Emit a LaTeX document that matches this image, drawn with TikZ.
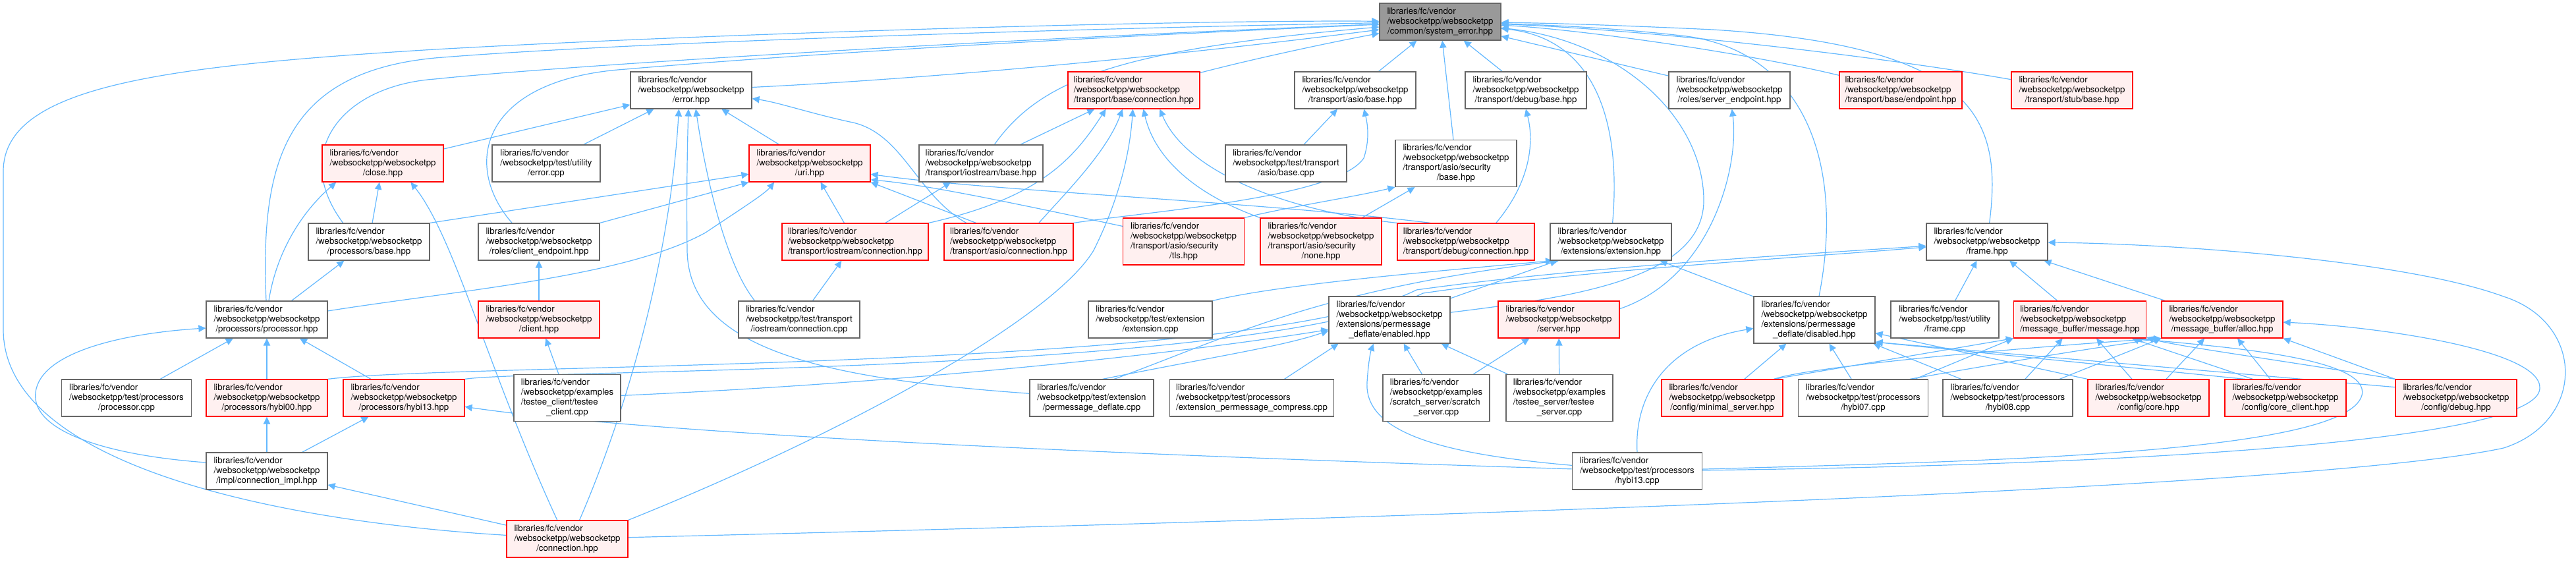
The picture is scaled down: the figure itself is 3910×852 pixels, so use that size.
\documentclass[tikz,border=0pt]{standalone}
\usepackage{fontspec}
\setmainfont{TeX Gyre Heros}
\usetikzlibrary{arrows.meta}
\definecolor{edgec}{HTML}{63B8FF}
\definecolor{bordg}{HTML}{666666}
\definecolor{bordr}{HTML}{FF0000}
\definecolor{fillr}{HTML}{FFF0F0}
\definecolor{fillg}{HTML}{999999}
\newcommand{\lthree}[3]{\begin{tabular}{@{}l@{}}#1\\#2\\\multicolumn{1}{@{}c@{}}{#3}\end{tabular}}
\newcommand{\lfour}[4]{\begin{tabular}{@{}l@{}}#1\\#2\\#3\\\multicolumn{1}{@{}c@{}}{#4}\end{tabular}}
\newcommand{\lfv}{libraries/fc/vendor}
\newcommand{\wsw}{/websocketpp/websocketpp}
\pgfdeclarelayer{bg}
\pgfsetlayers{bg,main}
\tikzset{
  nd/.style={draw=bordg, fill=white, line width=0.6pt, inner sep=0pt, minimum height=28pt, font=\fontsize{6.62}{7.5}\selectfont},
  rd/.style={nd, draw=bordr, fill=fillr},
  gd/.style={nd, fill=fillg},
  bw/.style={minimum width=#1*0.5pt},
  bh/.style={minimum height=#1*0.5pt},
  ed/.style={draw=edgec, line width=0.6pt, -{Triangle[length=5.5pt,width=5.2pt]}},
}
\begin{document}
\begin{tikzpicture}[x=0.5pt,y=-0.5pt]
\useasboundingbox (0,0) rectangle (3910,852);
% row 0
\node[gd,bw=184] (se) at (2186,33) {\lthree{\lfv}{\wsw}{/common/system\_error.hpp}};
% row 1
\node[nd,bw=184] (err) at (1049,137) {\lthree{\lfv}{\wsw}{/error.hpp}};
\node[rd,bw=200] (tbc) at (1721,137) {\lthree{\lfv}{\wsw}{/transport/base/connection.hpp}};
\node[nd,bw=184] (tab) at (2057,137) {\lthree{\lfv}{\wsw}{/transport/asio/base.hpp}};
\node[nd,bw=184] (tdb) at (2316,137) {\lthree{\lfv}{\wsw}{/transport/debug/base.hpp}};
\node[nd,bw=184] (rse) at (2625,137) {\lthree{\lfv}{\wsw}{/roles/server\_endpoint.hpp}};
\node[rd,bw=186] (tbe) at (2885,137) {\lthree{\lfv}{\wsw}{/transport/base/endpoint.hpp}};
\node[rd,bw=184] (tsb) at (3145,137) {\lthree{\lfv}{\wsw}{/transport/stub/base.hpp}};
% row 2
\node[rd,bw=184] (close) at (581,248) {\lthree{\lfv}{\wsw}{/close.hpp}};
\node[nd,bw=164] (errcpp) at (829,248) {\lthree{\lfv}{/websocketpp/test/utility}{/error.cpp}};
\node[rd,bw=184] (uri) at (1229,248) {\lthree{\lfv}{\wsw}{/uri.hpp}};
\node[nd,bw=188] (tib) at (1489,248) {\lthree{\lfv}{\wsw}{/transport/iostream/base.hpp}};
\node[nd,bw=184] (tabcpp) at (1952,248) {\lthree{\lfv}{/websocketpp/test/transport}{/asio/base.cpp}};
\node[nd,bw=184,bh=71] (tasb) at (2210,248) {\lfour{\lfv}{\wsw}{/transport/asio/security}{/base.hpp}};
% row 3
\node[nd,bw=184] (pbase) at (560,367) {\lthree{\lfv}{\wsw}{/processors/base.hpp}};
\node[nd,bw=184] (cep) at (818,367) {\lthree{\lfv}{\wsw}{/roles/client\_endpoint.hpp}};
\node[rd,bw=222] (ticonn) at (1298,367) {\lthree{\lfv}{\wsw}{/transport/iostream/connection.hpp}};
\node[rd,bw=196] (tac) at (1531,367) {\lthree{\lfv}{\wsw}{/transport/asio/connection.hpp}};
\node[rd,bw=184,bh=71] (tls) at (1796.5,366.5) {\lfour{\lfv}{\wsw}{/transport/asio/security}{/tls.hpp}};
\node[rd,bw=184,bh=71] (none) at (2005,366.5) {\lfour{\lfv}{\wsw}{/transport/asio/security}{/none.hpp}};
\node[rd,bw=208] (tdc) at (2225,367) {\lthree{\lfv}{\wsw}{/transport/debug/connection.hpp}};
\node[nd,bw=184] (ext) at (2445,367) {\lthree{\lfv}{\wsw}{/extensions/extension.hpp}};
\node[nd,bw=184] (frame) at (3016,367) {\lthree{\lfv}{\wsw}{/frame.hpp}};
% row 4
\node[nd,bw=184] (proc) at (405,485) {\lthree{\lfv}{\wsw}{/processors/processor.hpp}};
\node[rd,bw=184] (client) at (818,485) {\lthree{\lfv}{\wsw}{/client.hpp}};
\node[nd,bw=184] (ticonncpp) at (1213,485) {\lthree{\lfv}{/websocketpp/test/transport}{/iostream/connection.cpp}};
\node[nd,bw=188] (extcpp) at (1746,485) {\lthree{\lfv}{/websocketpp/test/extension}{/extension.cpp}};
\node[nd,bw=184,bh=71] (enabled) at (2109,485.5) {\lfour{\lfv}{\wsw}{/extensions/permessage}{\_deflate/enabled.hpp}};
\node[rd,bw=184] (server) at (2366,485) {\lthree{\lfv}{\wsw}{/server.hpp}};
\node[nd,bw=184,bh=71] (disabled) at (2754,485.5) {\lfour{\lfv}{\wsw}{/extensions/permessage}{\_deflate/disabled.hpp}};
\node[nd,bw=164] (framecpp) at (2952,485) {\lthree{\lfv}{/websocketpp/test/utility}{/frame.cpp}};
\node[rd,bw=201] (msg) at (3157,485) {\lthree{\lfv}{\wsw}{/message\_buffer/message.hpp}};
\node[rd,bw=184] (alloc) at (3373,485) {\lthree{\lfv}{\wsw}{/message\_buffer/alloc.hpp}};
% row 5
\node[nd,bw=197] (proccpp) at (192,604) {\lthree{\lfv}{/websocketpp/test/processors}{/processor.cpp}};
\node[rd,bw=184] (hzz) at (405,604) {\lthree{\lfv}{\wsw}{/processors/hybi00.hpp}};
\node[rd,bw=184] (hot) at (613,604) {\lthree{\lfv}{\wsw}{/processors/hybi13.hpp}};
\node[nd,bw=162,bh=71] (tclient) at (861,604) {\lfour{\lfv}{/websocketpp/examples}{/testee\_client/testee}{\_client.cpp}};
\node[nd,bw=188] (pmdcpp) at (1657,604) {\lthree{\lfv}{/websocketpp/test/extension}{/permessage\_deflate.cpp}};
\node[nd,bw=249] (epccpp) at (1900,604) {\lthree{\lfv}{/websocketpp/test/processors}{/extension\_permessage\_compress.cpp}};
\node[nd,bw=162,bh=71] (scratch) at (2180,604) {\lfour{\lfv}{/websocketpp/examples}{/scratch\_server/scratch}{\_server.cpp}};
\node[nd,bw=162,bh=71] (tserver) at (2367,604) {\lfour{\lfv}{/websocketpp/examples}{/testee\_server/testee}{\_server.cpp}};
\node[rd,bw=184] (minsrv) at (2614,604) {\lthree{\lfv}{\wsw}{/config/minimal\_server.hpp}};
\node[nd,bw=197] (hzscpp) at (2828,604) {\lthree{\lfv}{/websocketpp/test/processors}{/hybi07.cpp}};
\node[nd,bw=197] (hzecpp) at (3047.5,604) {\lthree{\lfv}{/websocketpp/test/processors}{/hybi08.cpp}};
\node[rd,bw=184] (core) at (3261,604) {\lthree{\lfv}{\wsw}{/config/core.hpp}};
\node[rd,bw=184] (cclient) at (3469,604) {\lthree{\lfv}{\wsw}{/config/core\_client.hpp}};
\node[rd,bw=184] (debug) at (3728,604) {\lthree{\lfv}{\wsw}{/config/debug.hpp}};
% row 6
\node[nd,bw=184] (cimpl) at (405,715) {\lthree{\lfv}{\wsw}{/impl/connection\_impl.hpp}};
\node[nd,bw=197] (htcpp) at (2485,715) {\lthree{\lfv}{/websocketpp/test/processors}{/hybi13.cpp}};
% row 7
\node[rd,bw=184] (conn) at (861,818) {\lthree{\lfv}{\wsw}{/connection.hpp}};

\begin{pgfonlayer}{bg}
% into system_error
\draw[ed] (err) .. controls (1500,115) and (1900,70) .. (se);
\draw[ed] (tbc) .. controls (1880,95) and (1990,70) .. (se);
\draw[ed] (tab) -- (se);
\draw[ed] (tasb) -- (se);
\draw[ed] (tdb) -- (se);
\draw[ed] (rse) -- (se);
\draw[ed] (tbe) .. controls (2650,80) and (2400,45) .. (se);
\draw[ed] (tsb) .. controls (2850,85) and (2500,45) .. (se);
\draw[ed] (frame) .. controls (3040,180) and (3000,70) .. (2600,45) .. controls (2450,38) and (2350,35) .. (se);
\draw[ed] (ext) .. controls (2460,200) and (2430,60) .. (se);
\draw[ed] (tib) .. controls (1580,120) and (1700,75) .. (se);
\draw[ed] (cep.145) .. controls (700,250) and (730,120) .. (950,105) .. controls (1300,75) and (1800,50) .. (se);
\draw[ed] (pbase.144) .. controls (440,230) and (520,130) .. (660,120) .. controls (850,100) and (1500,60) .. (se);
\draw[ed] (proc.92) .. controls (395,250) and (430,110) .. (660,88) .. controls (1000,60) and (1800,40) .. (se);
\draw[ed] (conn) .. controls (400,790) and (5,700) .. (5,500) -- (5,260) .. controls (5,130) and (250,100) .. (660,75) .. controls (1100,50) and (1800,30) .. (se);
\draw[ed] (disabled) .. controls (2800,250) and (2740,80) .. (2560,55) .. controls (2450,42) and (2350,38) .. (se);
\draw[ed] (enabled) .. controls (2400,450) and (2590,420) .. (2586,300) .. controls (2582,170) and (2450,60) .. (se);
% into error.hpp
\draw[ed] (close) -- (err);
\draw[ed] (errcpp) -- (err);
\draw[ed] (uri) -- (err);
\draw[ed] (tac.156) .. controls (1390,295) and (1370,200) .. (1290,185) .. controls (1230,172) and (1180,155) .. (err);
\draw[ed] (conn.57) .. controls (970,580) and (1020,350) .. (err.237);
\draw[ed] (ticonncpp.157) .. controls (1100,400) and (1070,260) .. (err.-76);
\draw[ed] (pmdcpp) .. controls (1250,575) and (1045,530) .. (1043,380) .. controls (1042,300) and (1043,230) .. (err.262);
% into close.hpp
\draw[ed] (pbase) -- (close);
\draw[ed] (proc.84) .. controls (420,380) and (460,320) .. (close.202);
\draw[ed] (conn.118) .. controls (740,560) and (690,360) .. (close.-34);
% into uri.hpp
\draw[ed] (pbase.north east) -- (uri.190);
\draw[ed] (cep.north east) -- (uri.south west);
\draw[ed] (proc.8) .. controls (700,440) and (950,420) .. (1071,353) .. controls (1120,320) and (1160,295) .. (uri.208);
\draw[ed] (ticonn) -- (uri);
\draw[ed] (tac.150) -- (uri.south east);
\draw[ed] (tls.166) .. controls (1500,300) and (1400,280) .. (uri.-15);
\draw[ed] (tdc.152) .. controls (1900,305) and (1500,290) .. (uri.-10);
% into transport/base/connection.hpp
\draw[ed] (tib) -- (tbc);
\draw[ed] (ticonn.north east) .. controls (1580,300) and (1630,240) .. (tbc.214);
\draw[ed] (tac.32) .. controls (1620,290) and (1680,230) .. (tbc.239);
\draw[ed] (conn.north east) .. controls (1300,650) and (1600,480) .. (1660,380) .. controls (1700,300) and (1715,230) .. (tbc.267);
\draw[ed] (none.north west) .. controls (1800,290) and (1750,230) .. (tbc.-63);
\draw[ed] (tdc.north west) .. controls (1950,320) and (1800,260) .. (tbc.-36);
% transport
\draw[ed] (tabcpp) -- (tab);
\draw[ed] (tac.north east) .. controls (1750,320) and (2030,300) .. (2070,240) .. controls (2080,210) and (2075,185) .. (tab.-65);
\draw[ed] (tls.north east) .. controls (1950,315) and (2050,300) .. (tasb.south west);
\draw[ed] (none) -- (tasb);
\draw[ed] (tdc.32) .. controls (2320,280) and (2330,220) .. (tdb.south);
\draw[ed] (ticonncpp) -- (ticonn);
\draw[ed] (ticonn) -- (tib);
% roles
\draw[ed] (client) -- (cep);
\draw[ed] (tclient) -- (client);
\draw[ed] (server.10) .. controls (2600,420) and (2640,250) .. (rse);
\draw[ed] (scratch) -- (server);
\draw[ed] (tserver) -- (server);
% processors
\draw[ed] (proc) -- (pbase);
\draw[ed] (proccpp) -- (proc);
\draw[ed] (hzz) -- (proc);
\draw[ed] (hot) -- (proc);
\draw[ed] (cimpl) -- (hzz);
\draw[ed] (cimpl) -- (hot);
\draw[ed] (conn) -- (cimpl);
\draw[ed] (cimpl.172) .. controls (150,690) and (40,650) .. (55,590) .. controls (70,530) and (200,505) .. (proc.188);
\draw[ed] (htcpp) .. controls (1700,690) and (1000,660) .. (hot);
% frame
\draw[ed] (hzz.north east) .. controls (700,550) and (1900,565) .. (2150,440) .. controls (2400,405) and (2750,385) .. (frame);
\draw[ed] (hot.north east) .. controls (800,560) and (1900,570) .. (2160,445) .. controls (2400,410) and (2750,390) .. (frame);
\draw[ed] (conn) .. controls (2000,790) and (3500,745) .. (3800,680) .. controls (3925,640) and (3925,490) .. (3800,450) .. controls (3650,395) and (3300,370) .. (frame);
\draw[ed] (framecpp) -- (frame);
\draw[ed] (msg) -- (frame);
\draw[ed] (alloc) -- (frame);
% extensions
\draw[ed] (extcpp.north east) .. controls (1950,430) and (2200,410) .. (ext.198);
\draw[ed] (enabled) -- (ext);
\draw[ed] (disabled) -- (ext);
\draw[ed] (pmdcpp.40) .. controls (1870,510) and (2000,440) .. (ext.200);
\draw[ed] (tclient) .. controls (1400,580) and (1800,535) .. (enabled);
\draw[ed] (pmdcpp.60) .. controls (1850,540) and (1950,525) .. (enabled.190);
\draw[ed] (epccpp.30) -- (enabled.205);
\draw[ed] (htcpp.175) .. controls (2200,690) and (2070,660) .. (2075,580) .. controls (2077,550) and (2080,535) .. (enabled.236);
\draw[ed] (scratch) -- (enabled);
\draw[ed] (tserver) -- (enabled);
\draw[ed] (htcpp.north) .. controls (2480,600) and (2530,520) .. (disabled.188);
% disabled / message / alloc
\draw[ed] (minsrv) -- (disabled);
\draw[ed] (hzscpp) -- (disabled);
\draw[ed] (hzecpp) -- (disabled);
\draw[ed] (core.north west) -- (disabled);
\draw[ed] (cclient.155) -- (disabled.-20);
\draw[ed] (debug.170) -- (disabled.-20);
\draw[ed] (minsrv.20) -- (msg.south west);
\draw[ed] (minsrv.20) .. controls (2750,555) and (3100,525) .. (alloc.south west);
\draw[ed] (hzscpp.20) -- (msg.south west);
\draw[ed] (hzscpp.22) .. controls (3100,540) and (3200,525) .. (alloc.south west);
\draw[ed] (hzecpp) -- (msg);
\draw[ed] (hzecpp.20) -- (alloc.south west);
\draw[ed] (core) -- (msg);
\draw[ed] (core) -- (alloc);
\draw[ed] (cclient.150) -- (msg.-20);
\draw[ed] (cclient) -- (alloc);
\draw[ed] (debug.north west) .. controls (3450,545) and (3300,525) .. (msg.-15);
\draw[ed] (debug.north west) -- (alloc.south east);
\draw[ed] (htcpp) .. controls (3000,700) and (3560,690) .. (3585,600) .. controls (3600,540) and (3350,525) .. (msg.-19);
\draw[ed] (htcpp) .. controls (3300,705) and (3850,665) .. (3855,590) .. controls (3860,530) and (3600,495) .. (alloc);
\end{pgfonlayer}
\end{tikzpicture}
\end{document}
